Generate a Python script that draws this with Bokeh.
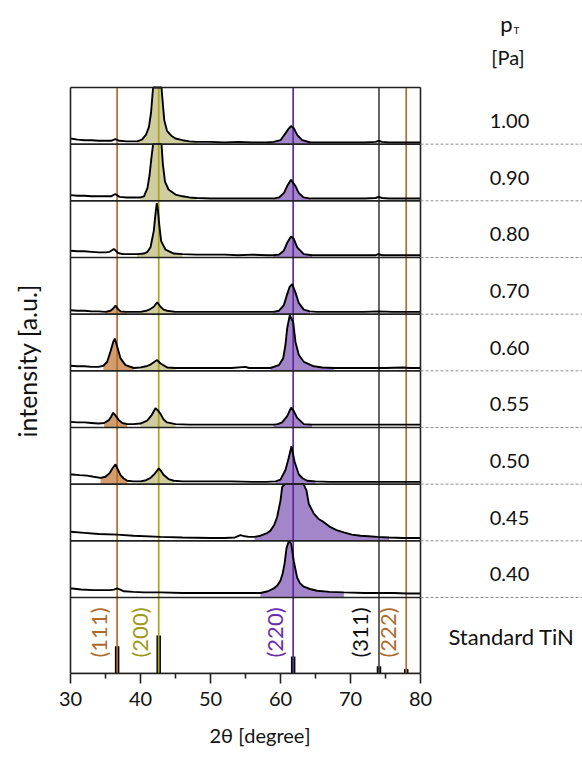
import numpy as np
from bokeh.plotting import figure
from bokeh.models import Range1d, FixedTicker, Title
from bokeh.embed import file_html
from bokeh.resources import INLINE
from bokeh.core.properties import value

# ---------------- data ----------------
pressures = ["1.00", "0.90", "0.80", "0.70", "0.60", "0.55", "0.50", "0.45", "0.40"]

tt_100 = [30, 31, 32, 33, 34, 35, 35.8, 36.4, 37.0, 38.0, 39.0, 39.5, 40.2, 40.8, 41.2, 41.5, 41.8, 42.1, 42.4, 42.7,
          43.0, 43.2, 43.4, 43.8, 44.4, 45.0, 46, 47, 48, 50, 52, 54, 56, 58, 59, 60.0, 60.7, 61.2, 61.5, 61.9,
          62.4, 63.1, 64.3, 66, 68, 70, 72, 73.6, 74.0, 74.5, 75.5, 77, 78.5, 80]
I_100 = [0.10, 0.08, 0.07, 0.07, 0.06, 0.06, 0.06, 0.09, 0.06, 0.05, 0.05, 0.05, 0.08, 0.17, 0.30, 0.55, 1.00, 1.60, 1.80, 1.70,
         1.20, 0.70, 0.42, 0.23, 0.15, 0.10, 0.07, 0.05, 0.04, 0.04, 0.03, 0.04, 0.03, 0.03, 0.04, 0.07, 0.19, 0.28, 0.32, 0.28,
         0.16, 0.07, 0.03, 0.03, 0.03, 0.03, 0.03, 0.04, 0.06, 0.04, 0.03, 0.03, 0.03, 0.03]

tt_090 = [30, 31, 32, 33, 34, 35, 35.8, 36.4, 37.0, 38, 39, 40.0, 40.5, 41.0, 41.3, 41.55, 41.8, 42.1, 42.4, 42.7,
          43.0, 43.2, 43.5, 44.0, 45.0, 46, 47, 48, 50, 52, 54, 56, 58, 59.0, 59.8, 60.5, 60.95, 61.5, 62.14, 62.6,
          63.3, 64.3, 66, 68, 70, 72, 73.6, 74.0, 74.5, 75.5, 77, 78.5, 80]
I_090 = [0.10, 0.09, 0.09, 0.08, 0.08, 0.08, 0.08, 0.12, 0.07, 0.06, 0.06, 0.06, 0.08, 0.23, 0.46, 0.75, 1.10, 1.50, 1.60, 1.50,
         1.05, 0.64, 0.34, 0.20, 0.11, 0.08, 0.06, 0.05, 0.04, 0.04, 0.04, 0.04, 0.04, 0.04, 0.06, 0.14, 0.26, 0.37, 0.26, 0.14,
         0.06, 0.04, 0.04, 0.04, 0.04, 0.04, 0.05, 0.07, 0.05, 0.04, 0.04, 0.04, 0.04]

tt_080 = [30, 31, 32, 33, 34, 35, 35.6, 36.2, 36.8, 37.5, 38.5, 39.5, 40.5, 41.0, 41.43, 41.9, 42.14, 42.33, 42.48, 42.67,
          42.95, 43.57, 44.76, 46, 48, 50, 52, 54, 56, 58, 59.0, 59.76, 60.48, 60.95, 61.5, 61.9, 62.38, 63.33, 64.5,
          66, 68, 70, 72, 73.6, 74.0, 74.5, 75.5, 77, 78.5, 80]
I_080 = [0.12, 0.11, 0.11, 0.10, 0.09, 0.09, 0.10, 0.15, 0.08, 0.06, 0.06, 0.06, 0.07, 0.10, 0.18, 0.47, 0.77, 0.96, 0.85, 0.59,
         0.29, 0.14, 0.07, 0.06, 0.05, 0.05, 0.05, 0.04, 0.05, 0.04, 0.04, 0.05, 0.12, 0.26, 0.37, 0.33, 0.18, 0.06, 0.04,
         0.04, 0.04, 0.04, 0.04, 0.04, 0.06, 0.04, 0.04, 0.04, 0.04, 0.04]

tt_070 = [30, 31, 32, 33, 34, 35, 35.7, 36.1, 36.43, 36.8, 37.14, 38, 39, 40, 40.8, 41.4, 41.9, 42.38, 42.86, 43.3,
          43.8, 45, 47, 50, 53, 56, 58, 59.0, 59.76, 60.48, 60.95, 61.3, 61.67, 62.14, 62.6, 63.33, 64.2, 65.2,
          67, 70, 72, 74.0, 76, 78, 80]
I_070 = [0.07, 0.06, 0.06, 0.05, 0.05, 0.04, 0.06, 0.10, 0.15, 0.09, 0.05, 0.04, 0.04, 0.04, 0.06, 0.09, 0.13, 0.21, 0.13, 0.08,
         0.06, 0.04, 0.04, 0.04, 0.04, 0.04, 0.04, 0.04, 0.06, 0.16, 0.35, 0.48, 0.53, 0.38, 0.20, 0.08, 0.05, 0.04,
         0.04, 0.04, 0.04, 0.05, 0.04, 0.04, 0.04]

tt_060 = [30, 31, 32, 33, 34, 34.7, 35.24, 35.71, 36.1, 36.33, 36.67, 37.14, 37.86, 39.05, 40.0, 40.8, 41.43, 42.0, 42.38,
          42.86, 43.8, 45, 47, 50, 53, 55.0, 55.5, 56.5, 57.5, 58.57, 59.76, 60.38, 60.71, 60.95, 61.33, 61.81, 62.14,
          62.62, 63.33, 64.76, 66.0, 67.62, 70, 73, 75, 77.5, 78.5, 80]
I_060 = [0.09, 0.08, 0.08, 0.07, 0.07, 0.09, 0.16, 0.34, 0.51, 0.57, 0.43, 0.22, 0.10, 0.05, 0.06, 0.08, 0.11, 0.16, 0.19,
         0.13, 0.06, 0.05, 0.05, 0.05, 0.05, 0.07, 0.05, 0.05, 0.05, 0.05, 0.10, 0.22, 0.46, 0.75, 0.98, 0.86, 0.51,
         0.28, 0.16, 0.08, 0.06, 0.05, 0.05, 0.05, 0.05, 0.06, 0.05, 0.05]

tt_055 = [30, 31, 32, 33, 34, 34.8, 35.48, 35.8, 36.1, 36.5, 36.9, 37.4, 38.1, 39.0, 40.0, 40.95, 41.6, 42.14, 42.5,
          42.86, 43.3, 43.8, 45, 47, 50, 53, 56, 58, 59.0, 59.6, 60.24, 60.95, 61.52, 61.9, 62.38, 63.33, 64.5,
          66, 68, 70, 72, 74, 76, 78, 80]
I_055 = [0.10, 0.09, 0.09, 0.08, 0.07, 0.08, 0.13, 0.19, 0.26, 0.20, 0.13, 0.08, 0.06, 0.06, 0.07, 0.12, 0.22, 0.34, 0.30,
         0.24, 0.14, 0.09, 0.06, 0.05, 0.05, 0.05, 0.05, 0.05, 0.05, 0.06, 0.09, 0.20, 0.35, 0.29, 0.17, 0.06, 0.05,
         0.05, 0.05, 0.05, 0.05, 0.05, 0.05, 0.05, 0.05]

tt_050 = [30, 30.24, 31.3, 32.38, 33.3, 34.29, 35.0, 35.62, 36.0, 36.43, 36.8, 37.14, 37.6, 38.1, 39.0, 40.0, 40.8,
          41.43, 42.0, 42.62, 43.0, 43.33, 44.0, 44.76, 46, 48, 50, 53, 56, 58, 59.3, 60.0, 60.71, 61.19, 61.57,
          62.0, 62.62, 63.2, 63.81, 65, 67, 70, 73, 76, 78, 80]
I_050 = [0.17, 0.17, 0.16, 0.15, 0.13, 0.11, 0.13, 0.20, 0.28, 0.35, 0.25, 0.16, 0.10, 0.06, 0.05, 0.05, 0.07,
         0.11, 0.18, 0.28, 0.22, 0.16, 0.09, 0.06, 0.05, 0.05, 0.05, 0.05, 0.04, 0.04, 0.05, 0.08, 0.25, 0.47, 0.67,
         0.40, 0.17, 0.10, 0.06, 0.05, 0.04, 0.04, 0.04, 0.04, 0.04, 0.04]

tt_045 = [30, 32, 34, 36.67, 39, 42.86, 46, 50, 52, 53.5, 54.29, 54.9, 55.48, 56.3, 57.14, 58.0, 58.57, 59.1, 59.52,
          60.0, 60.24, 60.6, 61.2, 61.9, 62.6, 63.3, 63.71, 64.05, 64.76, 65.5, 66.19, 67.14, 68.0, 69.05, 70.2,
          71.43, 72.6, 73.81, 75.5, 77.5, 79.76, 80]
I_045 = [0.16, 0.14, 0.12, 0.11, 0.09, 0.07, 0.06, 0.05, 0.05, 0.06, 0.10, 0.08, 0.07, 0.07, 0.09, 0.13, 0.18, 0.28, 0.42,
         0.71, 0.95, 1.30, 1.70, 1.90, 1.70, 1.20, 0.89, 0.65, 0.48, 0.38, 0.33, 0.24, 0.19, 0.15, 0.11,
         0.09, 0.08, 0.07, 0.06, 0.05, 0.05, 0.05]

tt_040 = [30, 30.24, 31.5, 33.33, 34.5, 35.71, 36.2, 36.67, 37.1, 37.62, 39, 40.5, 42.86, 46, 50, 54, 57.14, 58.2,
          59.05, 59.6, 60.0, 60.3, 60.57, 60.86, 61.19, 61.52, 61.9, 62.38, 62.8, 63.33, 64.2, 65.24, 67, 69.05,
          72, 76.19, 78, 80]
I_040 = [0.16, 0.16, 0.14, 0.13, 0.13, 0.13, 0.14, 0.16, 0.14, 0.11, 0.10, 0.09, 0.09, 0.08, 0.08, 0.08, 0.08, 0.11,
         0.16, 0.22, 0.30, 0.42, 0.59, 0.87, 1.00, 0.95, 0.64, 0.35, 0.25, 0.19, 0.15, 0.12, 0.10, 0.09,
         0.08, 0.08, 0.07, 0.07]

# shaded peak regions (2theta range, reflection) per pattern, top to bottom
fills_100 = [(39.5, 48.0, "200"), (58.0, 64.3, "220")]
fills_090 = [(39.5, 48.0, "200"), (59.0, 64.3, "220")]
fills_080 = [(39.5, 46.0, "200"), (59.0, 64.5, "220")]
fills_070 = [(35.0, 38.0, "111"), (40.0, 45.0, "200"), (59.0, 64.2, "220")]
fills_060 = [(34.7, 39.05, "111"), (40.0, 45.0, "200"), (58.57, 67.62, "220")]
fills_055 = [(34.8, 38.1, "111"), (40.0, 45.0, "200"), (59.0, 64.5, "220")]
fills_050 = [(34.29, 38.1, "111"), (40.0, 44.76, "200"), (59.3, 65.0, "220")]
fills_045 = [(56.3, 75.5, "220")]
fills_040 = [(57.14, 69.05, "220")]

# standard TiN reflections
std_hkl = ["(111)", "(200)", "(220)", "(311)", "(222)"]
std_pos = [36.66, 42.60, 61.81, 74.07, 77.96]
std_int = [72, 100, 45, 19, 12]

xticks = [30, 40, 50, 60, 70, 80]
xminor = [35, 45, 55, 65, 75]

# ---------------- layout / style ----------------
FONT = "Lato"
PXDEG = 7.0                 # pixels per degree
H = (597 - 87) / 9.0        # pixel height of one pattern panel
FB = 673                    # frame bottom (px from top)
S = (FB - 597) / H          # height of standard panel
TOP = S + 9


def yd(py):
    return (FB - py) / H


def xd(px):
    return 30 + (px - 70) / PXDEG


hkl_line_col = ["#b36d2f", "#a6a51c", "#5e2a9e", "#4a4a4a", "#b36d2f"]
hkl_text_col = ["#b06a2c", "#9c9a1a", "#6a2ca8", "#111111", "#b06a2c"]
fill_col = {"111": "#d29c6c", "200": "#cfcd9f", "220": "#a386c9"}

panels_x = [tt_100, tt_090, tt_080, tt_070, tt_060, tt_055, tt_050, tt_045, tt_040]
panels_y = [I_100, I_090, I_080, I_070, I_060, I_055, I_050, I_045, I_040]
panels_f = [fills_100, fills_090, fills_080, fills_070, fills_060, fills_055, fills_050, fills_045, fills_040]

p = figure(width=582, height=763, output_backend="svg", toolbar_location=None,
           x_range=Range1d(xd(0), xd(582)), y_range=Range1d(0, FB / H),
           y_axis_location=None, min_border_left=0, min_border_right=0,
           min_border_top=0, min_border_bottom=763 - FB)
p.outline_line_color = None
p.xgrid.visible = False
p.ygrid.visible = False
p.background_fill_color = "white"
p.border_fill_color = "white"

bottoms = [S + (8 - i) for i in range(9)]

# fills
for xs, ys, fl, b in zip(panels_x, panels_y, panels_f, bottoms):
    xa = np.array(xs, dtype=float)
    ya = np.minimum(np.array(ys, dtype=float), 1.0)
    for lo, hi, ph in fl:
        m = (xa >= lo) & (xa <= hi)
        p.varea(x=xa[m], y1=b, y2=b + ya[m], fill_color=fill_col[ph])

# standard bars
p.vbar(x=std_pos, top=[v * 0.0067 for v in std_int], bottom=0, width=4.5 / PXDEG,
       fill_color="black", line_color=None)

# reference lines
p.segment(x0=std_pos, y0=[0] * 5, x1=std_pos, y1=[TOP] * 5, line_color=hkl_line_col, line_width=1.7)

# patterns
for xs, ys, b in zip(panels_x, panels_y, bottoms):
    xa = np.array(xs, dtype=float)
    ya = np.minimum(np.array(ys, dtype=float), 1.0)
    p.line(xa, b + ya, line_color="black", line_width=1.9)

# panel frames
hy = [0, S] + [S + k for k in range(1, 10)]
p.segment(x0=[30] * len(hy), x1=[80] * len(hy), y0=hy, y1=hy, line_color="#222222", line_width=1.6)
p.segment(x0=[30, 80], x1=[30, 80], y0=[0, 0], y1=[TOP, TOP], line_color="#222222", line_width=1.6)

# dashed guides to the right
p.segment(x0=[80] * 9, x1=[xd(582)] * 9, y0=bottoms, y1=bottoms,
          line_color="#8f8f8f", line_width=1, line_dash="3 2")

# pressure labels
p.text(x=[xd(509)] * 9, y=[b + 0.5 - 5 / H for b in bottoms], text=pressures,
       text_font=value(FONT), text_font_size="20px", text_align="center",
       text_baseline="middle", text_color="#111111")
p.text(x=[xd(511)], y=[yd(636)], text=["Standard TiN"], text_font=value(FONT),
       text_font_size="22px", text_align="center", text_baseline="middle", text_color="#111111")
p.text(x=[xd(506)], y=[yd(23)], text=["p"], text_font=value(FONT), text_font_size="22px",
       text_align="center", text_baseline="alphabetic", text_color="#111111")
p.text(x=[xd(513)], y=[yd(29)], text=["T"], text_font=value(FONT), text_font_size="10px",
       text_align="left", text_baseline="alphabetic", text_color="#111111")
p.text(x=[xd(507.5)], y=[yd(56)], text=["[Pa]"], text_font=value(FONT), text_font_size="20px",
       text_align="center", text_baseline="middle", text_color="#111111")

# hkl labels
p.text(x=std_pos, y=[yd(632)] * 5, text=std_hkl, x_offset=-19, angle=np.pi / 2,
       text_font=value(FONT), text_font_size="22px", text_align="center",
       text_baseline="middle", text_color=hkl_text_col)

# y label
p.text(x=[xd(26)], y=[yd(357)], text=["intensity  [a.u.]"], angle=np.pi / 2,
       text_font=value(FONT), text_font_size="25px", text_align="center",
       text_baseline="middle", text_color="#111111")

ax = p.xaxis[0]
ax.bounds = (30, 80)
ax.ticker = FixedTicker(ticks=xticks, minor_ticks=xminor)
ax.major_tick_in = 0
ax.major_tick_out = 10
ax.minor_tick_in = 0
ax.minor_tick_out = 5
ax.axis_line_width = 1.6
ax.axis_line_color = "#222222"
ax.major_tick_line_width = 1.6
ax.major_tick_line_color = "#222222"
ax.minor_tick_line_width = 1.6
ax.minor_tick_line_color = "#222222"
ax.major_label_text_font = FONT
ax.major_label_text_font_size = "20px"
ax.major_label_text_color = "#111111"
ax.major_label_standoff = 8

# x axis title, under the 30-80 span
p.add_layout(Title(text="2θ [degree]", align="left", offset=209, standoff=24,
                   text_font=FONT, text_font_size="20px", text_font_style="normal",
                   text_color="#111111"), "below")

open("out.html", "w").write(file_html(p, INLINE))
